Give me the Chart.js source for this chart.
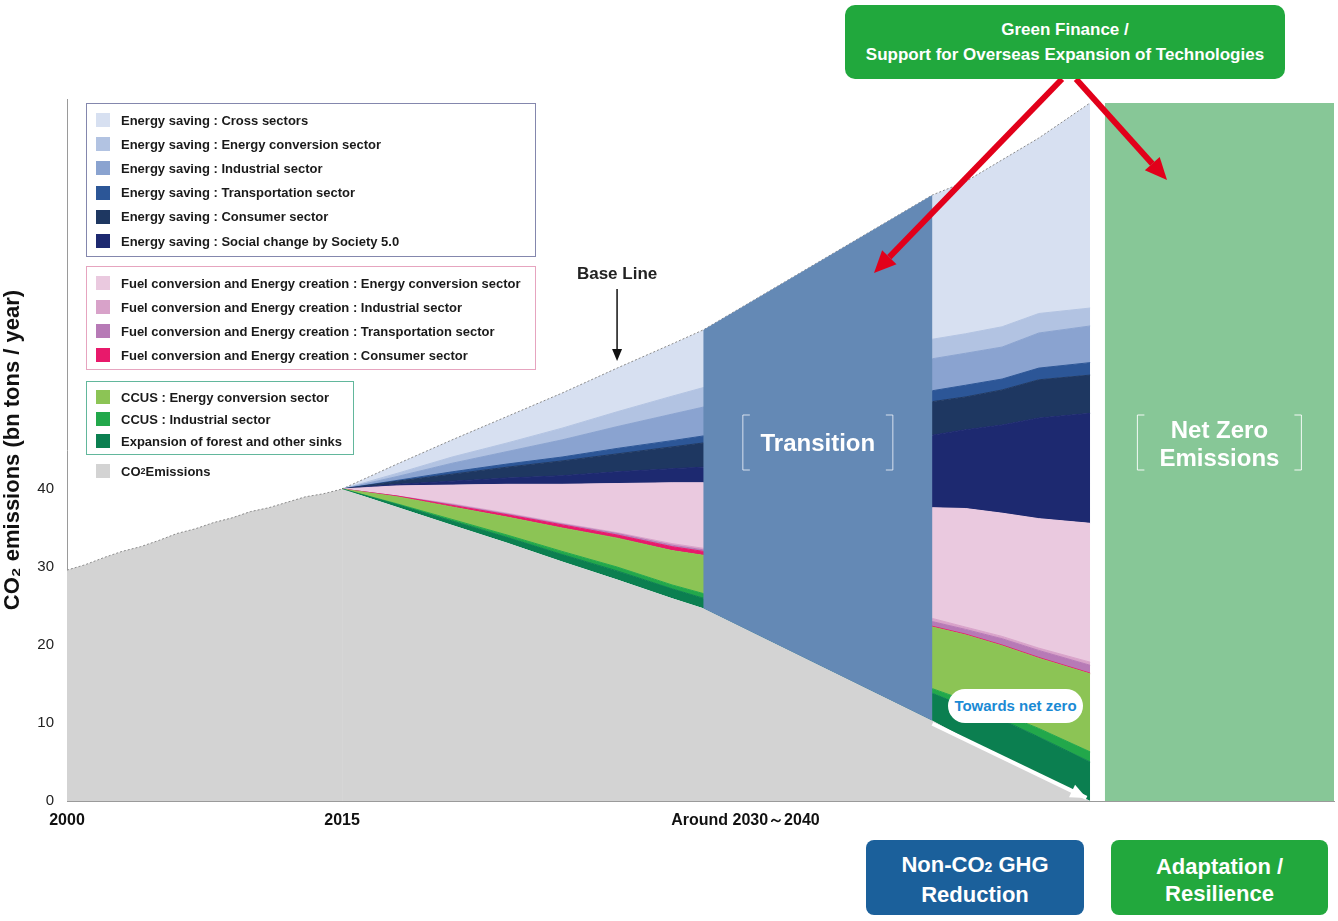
<!DOCTYPE html>
<html>
<head>
<meta charset="utf-8">
<script src="https://cdn.jsdelivr.net/npm/chart.js@4.4.1/dist/chart.umd.min.js"></script>
<style>
  html, body { margin: 0; padding: 0; background: #fff; }
  body { position: relative; width: 1338px; height: 921px; overflow: hidden; font-family: 'Liberation Sans', Arial, sans-serif; }
  #wrap { position: absolute; left: 0; top: 0; width: 1338px; height: 921px; }
  .lg { position: absolute; left: 86px; box-sizing: border-box; padding-top: 4px; border: 1px solid; }
  .it { display: flex; align-items: center; font-size: 13px; font-weight: bold; color: #1a1a1a; white-space: nowrap; }
  .sw { width: 14px; height: 14px; margin: 0 11px 0 9px; flex: none; }
  .box { position: absolute; box-sizing: border-box; border-radius: 10px; color: #fff; font-weight: bold; text-align: center; display: flex; flex-direction: column; justify-content: center; }
  .pill { position: absolute; left: 948px; top: 689px; width: 135px; height: 34px; border-radius: 17px; background: #fff; color: #1a8ad4; font-size: 15px; font-weight: bold; line-height: 34px; text-align: center; }
</style>
</head>
<body>
<div id="wrap"><canvas id="c"></canvas></div>
<div id="legend"></div>
<div class="box" style="left:845px;top:5px;width:440px;height:74px;background:#21a83d;font-size:17px;line-height:25px;">Green Finance /<br>Support for Overseas Expansion of Technologies</div>
<div class="box" style="left:866px;top:840px;width:218px;height:75px;background:#1b609b;font-size:22px;line-height:27px;border-radius:8px;padding-top:4px;"><div>Non-CO<span style="font-size:14px;">2</span> GHG</div><div>Reduction</div></div>
<div class="box" style="left:1111px;top:840px;width:217px;height:75px;background:#22a83d;font-size:22px;line-height:27px;border-radius:8px;padding-top:4px;">Adaptation /<br>Resilience</div>
<div class="pill">Towards net zero</div>
<script>
// ---- data (bn tons / year) ----
const histYears = [2000, 2001, 2002, 2003, 2004, 2005, 2006, 2007, 2008, 2009, 2010, 2011, 2012, 2013, 2014];
const histCO2   = [29.6, 30.3, 31.2, 32.0, 32.6, 33.4, 34.3, 34.9, 35.7, 36.3, 37.1, 37.6, 38.3, 39.0, 39.4];

const projYears = [2015, 2018, 2021, 2024, 2027, 2030, 2033, 2034.7, 2047.2, 2049, 2051, 2053, 2055.8];
const co2Proj   = [40.0, 37.7, 35.4, 33.1, 30.7, 28.4, 26.0, 24.7, 10.3, 8.0, 5.6, 3.3, 0];

const forest    = [0, 0.3, 0.5, 0.7, 0.9, 1.1, 1.2, 1.3, 3.5, 4.1, 4.8, 4.9, 5.0];
const ccusInd   = [0, 0.1, 0.2, 0.3, 0.4, 0.5, 0.5, 0.6, 0.6, 0.8, 0.8, 1.1, 1.3];
const ccusEC    = [0, 0.9, 1.6, 2.3, 3.0, 3.7, 4.4, 4.9, 7.9, 8.4, 8.7, 9.0, 10.0];
const fuelCons  = [0, 0.1, 0.2, 0.3, 0.4, 0.4, 0.5, 0.5, 0.1, 0.1, 0.1, 0.1, 0.1];
const fuelTrans = [0, 0, 0.1, 0.1, 0.1, 0.2, 0.2, 0.2, 0.6, 0.6, 0.8, 0.9, 1.0];
const fuelInd   = [0, 0, 0.1, 0.1, 0.1, 0.1, 0.2, 0.2, 0.4, 0.3, 0.3, 0.3, 0.4];
const fuelEC    = [0, 1.3, 2.4, 3.7, 5.0, 6.3, 7.8, 8.4, 14.2, 15.2, 15.8, 16.6, 17.8];
const esSocial  = [0, 0.2, 0.5, 0.8, 1.1, 1.5, 1.8, 2.0, 9.3, 10.1, 11.3, 12.9, 14.1];
const esCons    = [0, 0.4, 0.9, 1.4, 1.9, 2.3, 2.8, 3.1, 4.3, 4.2, 4.5, 4.9, 4.9];
const esTrans   = [0, 0.1, 0.3, 0.4, 0.5, 0.7, 0.8, 0.9, 1.4, 1.5, 1.4, 1.5, 1.6];
const esInd     = [0, 0.5, 1.1, 1.6, 2.2, 2.8, 3.4, 3.7, 4.1, 4.1, 4.1, 4.5, 4.7];
const esEC      = [0, 0.4, 0.8, 1.1, 1.5, 1.9, 2.3, 2.5, 2.5, 2.5, 2.6, 2.5, 2.3];
const esCross   = [0, 1.2, 2.2, 3.4, 4.5, 5.6, 6.7, 7.4, 18.5, 19.5, 21.4, 22.5, 26.3];

const transYears = [2034.7, 2047.2];
const transTop   = [60.4, 77.7];
const nzYears    = [2056.6, 2069.1];
const nzTop      = [89.5, 89.5];
const arrowYears = [2047.2, 2055.6];
const arrowVals  = [9.9, 0.4];

const yTicks = [0, 10, 20, 30, 40];
const xTicks = [2000, 2015, 2037];
const xTickLabels = ['2000', '2015', 'Around 2030～2040'];

// stacking order, bottom to top
const layers = [
  { name: 'Expansion of forest and other sinks', values: forest, color: '#0b7f50', group: 'ccus' },
  { name: 'CCUS : Industrial sector', values: ccusInd, color: '#22a84b', group: 'ccus' },
  { name: 'CCUS : Energy conversion sector', values: ccusEC, color: '#8cc455', group: 'ccus' },
  { name: 'Fuel conversion and Energy creation : Consumer sector', values: fuelCons, color: '#e8196b', group: 'fuel' },
  { name: 'Fuel conversion and Energy creation : Transportation sector', values: fuelTrans, color: '#b77ab6', group: 'fuel' },
  { name: 'Fuel conversion and Energy creation : Industrial sector', values: fuelInd, color: '#d8a2c9', group: 'fuel' },
  { name: 'Fuel conversion and Energy creation : Energy conversion sector', values: fuelEC, color: '#eac9df', group: 'fuel' },
  { name: 'Energy saving : Social change by Society 5.0', values: esSocial, color: '#1d2970', group: 'es' },
  { name: 'Energy saving : Consumer sector', values: esCons, color: '#1e3761', group: 'es' },
  { name: 'Energy saving : Transportation sector', values: esTrans, color: '#2c5697', group: 'es' },
  { name: 'Energy saving : Industrial sector', values: esInd, color: '#8aa3d0', group: 'es' },
  { name: 'Energy saving : Energy conversion sector', values: esEC, color: '#b2c3e2', group: 'es' },
  { name: 'Energy saving : Cross sectors', values: esCross, color: '#d7e0f1', group: 'es' }
];
const co2Color = '#d3d3d3';

const pts = (xs, ys) => xs.map((x, i) => ({ x, y: ys[i] }));

const datasets = [{
  label: 'CO₂ Emissions',
  data: pts(histYears.concat(projYears), histCO2.concat(co2Proj)),
  backgroundColor: co2Color, fill: 'origin', pointRadius: 0, tension: 0,
  borderWidth: 1, borderDash: [2, 2],
  segment: { borderColor: c => c.p0.parsed.x < 2015 ? '#8a8a8a' : 'rgba(0,0,0,0)' }
}];
layers.forEach((l, i) => {
  const top = i === layers.length - 1;
  datasets.push({
    label: l.name, data: pts(projYears, l.values),
    backgroundColor: l.color, fill: '-1', pointRadius: 0, tension: 0,
    borderColor: top ? '#8a8a8a' : l.color, borderWidth: 1, borderDash: top ? [2, 2] : []
  });
});
datasets.push({
  label: 'Transition', data: pts(transYears, transTop), stack: 'tr', order: -1,
  backgroundColor: '#6489b5', fill: 0, pointRadius: 0, borderWidth: 0, tension: 0
});
datasets.push({
  label: 'Net Zero', data: pts(nzYears, nzTop), stack: 'nz', order: -1,
  backgroundColor: '#87c797', fill: 'origin', pointRadius: 0, borderWidth: 0, tension: 0
});
datasets.push({
  label: 'arrow', data: pts(arrowYears, arrowVals), stack: 'ar', order: -2,
  borderColor: '#fff', borderWidth: 4, fill: false, pointRadius: 0, tension: 0
});

function arrow(ctx, x1, y1, x2, y2, w, hl, hw, color) {
  const a = Math.atan2(y2 - y1, x2 - x1);
  const bx = x2 - hl * Math.cos(a), by = y2 - hl * Math.sin(a);
  ctx.strokeStyle = color; ctx.lineWidth = w;
  ctx.beginPath(); ctx.moveTo(x1, y1); ctx.lineTo(bx, by); ctx.stroke();
  ctx.fillStyle = color;
  ctx.beginPath(); ctx.moveTo(x2, y2);
  ctx.lineTo(bx + hw / 2 * Math.sin(a), by - hw / 2 * Math.cos(a));
  ctx.lineTo(bx - hw / 2 * Math.sin(a), by + hw / 2 * Math.cos(a));
  ctx.closePath(); ctx.fill();
}

function brackets(ctx, cx, half, top, bottom, color) {
  ctx.strokeStyle = color; ctx.lineWidth = 1;
  ctx.beginPath();
  ctx.moveTo(cx - half + 7, top); ctx.lineTo(cx - half, top); ctx.lineTo(cx - half, bottom); ctx.lineTo(cx - half + 7, bottom);
  ctx.moveTo(cx + half - 7, top); ctx.lineTo(cx + half, top); ctx.lineTo(cx + half, bottom); ctx.lineTo(cx + half - 7, bottom);
  ctx.stroke();
}

const annotations = {
  id: 'annotations',
  afterDraw(chart) {
    const { ctx, scales: { x, y } } = chart;
    ctx.save();
    // white head of the "towards net zero" arrow
    const am = chart.getDatasetMeta(chart.data.datasets.length - 1).data;
    const p0 = am[0], p1 = am[am.length - 1];
    const a = Math.atan2(p1.y - p0.y, p1.x - p0.x);
    ctx.fillStyle = '#fff';
    ctx.beginPath(); ctx.moveTo(p1.x, p1.y);
    ctx.lineTo(p1.x - 16 * Math.cos(a) + 7 * Math.sin(a), p1.y - 16 * Math.sin(a) - 7 * Math.cos(a));
    ctx.lineTo(p1.x - 16 * Math.cos(a) - 7 * Math.sin(a), p1.y - 16 * Math.sin(a) + 7 * Math.cos(a));
    ctx.closePath(); ctx.fill();

    // Transition label
    const tx = (x.getPixelForValue(transYears[0]) + x.getPixelForValue(transYears[1])) / 2;
    ctx.font = 'bold 24px "Liberation Sans", Arial, sans-serif';
    ctx.textAlign = 'center'; ctx.textBaseline = 'middle'; ctx.fillStyle = '#fff';
    ctx.fillText('Transition', tx, 444);
    brackets(ctx, tx, 75, 415, 470, 'rgba(235,240,248,0.85)');

    // Net Zero label
    const nx = (x.getPixelForValue(nzYears[0]) + x.getPixelForValue(nzYears[1])) / 2;
    ctx.fillText('Net Zero', nx, 431);
    ctx.fillText('Emissions', nx, 459);
    brackets(ctx, nx, 82, 415, 470, 'rgba(255,255,255,0.9)');

    // Base Line
    const bx = x.getPixelForValue(2030);
    ctx.fillStyle = '#222';
    ctx.font = 'bold 17px "Liberation Sans", Arial, sans-serif';
    ctx.fillText('Base Line', bx, 274);
    arrow(ctx, bx, 289, bx, 361, 1.5, 12, 10, '#111');

    // red arrows from the Green Finance box
    arrow(ctx, 1062, 79, 874, 273, 6, 22, 20, '#e2001a');
    arrow(ctx, 1076, 79, 1167, 180, 6, 22, 20, '#e2001a');
    ctx.restore();
  }
};

new Chart(document.getElementById('c'), {
  type: 'line',
  data: { datasets },
  options: {
    responsive: true, maintainAspectRatio: false,
    animation: false, events: [],
    layout: { padding: { top: 99, right: 4, left: 0, bottom: 0 } },
    plugins: { legend: { display: false }, tooltip: { enabled: false } },
    scales: {
      x: {
        type: 'linear', min: 2000, max: 2069.1,
        afterBuildTicks: s => { s.ticks = xTicks.map(v => ({ value: v })); },
        afterFit: s => { s.height = 120; },
        ticks: {
          autoSkip: false, maxRotation: 0, padding: 10, color: '#111',
          font: { family: "'Liberation Sans', Arial, sans-serif", size: 16, weight: 'bold' },
          callback: v => xTickLabels[xTicks.indexOf(v)]
        },
        grid: { display: false, drawTicks: false },
        border: { display: true, color: '#9a9a9a' }
      },
      y: {
        stacked: true, min: 0, max: 90,
        afterBuildTicks: s => { s.ticks = yTicks.map(v => ({ value: v })); },
        afterFit: s => { s.width = 67; },
        ticks: { padding: 13, color: '#222', font: { family: "'Liberation Sans', Arial, sans-serif", size: 15 } },
        grid: { display: false, drawTicks: false },
        border: { display: true, color: '#9a9a9a' },
        title: {
          display: true, text: 'CO₂ emissions (bn tons / year)', color: '#111', padding: 0,
          font: { family: "'Liberation Sans', Arial, sans-serif", size: 22, weight: 'bold' }
        }
      }
    }
  },
  plugins: [annotations]
});

// legend, grouped as in the picture
const legendBoxes = {
  es:   { top: 103, width: 450, height: 154, row: 24.2, border: '#8487ad' },
  fuel: { top: 266, width: 450, height: 104, row: 24, border: '#e6a4bf' },
  ccus: { top: 381, width: 268, height: 74, row: 22, border: '#62b79c' },
  co2:  { top: 454, width: 200, height: 34, row: 24, border: 'transparent' }
};
const groups = { es: [], fuel: [], ccus: [], co2: [{ name: 'CO<span style="font-size:9px">2</span> Emissions', color: co2Color }] };
layers.slice().reverse().forEach(l => groups[l.group].push(l));
let h = '';
Object.keys(groups).forEach(k => {
  const b = legendBoxes[k];
  h += `<div class="lg" style="top:${b.top}px;width:${b.width}px;height:${b.height}px;border-color:${b.border};">`;
  groups[k].forEach(l => {
    h += `<div class="it" style="height:${b.row}px;"><div class="sw" style="background:${l.color};"></div>${l.name}</div>`;
  });
  h += '</div>';
});
document.getElementById('legend').innerHTML = h;
</script>
</body>
</html>
